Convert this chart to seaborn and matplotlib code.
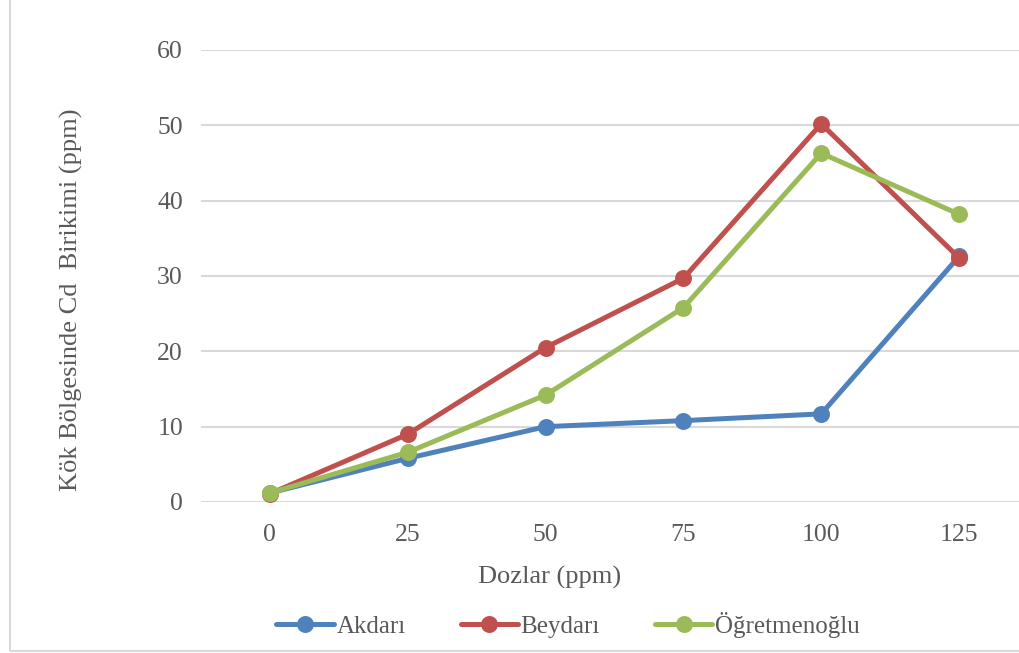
import matplotlib
matplotlib.use("Agg")
import matplotlib.pyplot as plt
import seaborn as sns
import pandas as pd
from matplotlib.patches import Rectangle

doses = ["0", "25", "50", "75", "100", "125"]
akdari = [1.2, 5.8, 10.0, 10.8, 11.7, 32.6]
beydari = [1.1, 9.0, 20.5, 29.7, 50.2, 32.4]
ogretmenoglu = [1.2, 6.6, 14.2, 25.8, 46.3, 38.2]
series_names = ["Akdarı", "Beydarı", "Öğretmenoğlu"]
colors = ["#4F81BD", "#C0504D", "#9BBB59"]
yticks = [0, 10, 20, 30, 40, 50, 60]

rows = []
for name, vals in zip(series_names, [akdari, beydari, ogretmenoglu]):
    for d, v in zip(doses, vals):
        rows.append({"Doz": d, "Val": v, "Cultivar": name})
df = pd.DataFrame(rows)

sns.set_theme(style="white")
plt.rcParams["font.family"] = ["Liberation Serif", "DejaVu Serif"]
text_color = "#595959"

W, H = 1019, 653
fig = plt.figure(figsize=(W / 100, H / 100), dpi=100)
fig.patch.set_facecolor("white")

# chart border
fig.add_artist(Rectangle((10 / W, 2 / H), 1.2, 1.2, transform=fig.transFigure,
                         fill=False, edgecolor="#D9D9D9", linewidth=1.5))

left, right = 201, 1028
bottom_px, top_px = 502, 50
ax = fig.add_axes([left / W, 1 - bottom_px / H, (right - left) / W, (bottom_px - top_px) / H])

sns.pointplot(data=df, x="Doz", y="Val", hue="Cultivar", order=doses,
              hue_order=series_names, palette=colors, markers="o",
              linestyles="-", errorbar=None, ax=ax,
              linewidth=3.6, markersize=9.5)

ax.set_xlim(-0.5, len(doses) - 0.5)
ax.set_ylim(0, 60)
ax.set_yticks(yticks)
ax.yaxis.grid(True, color="#D9D9D9", linewidth=1.5)
ax.set_axisbelow(True)
for s in ax.spines.values():
    s.set_visible(False)
ax.tick_params(axis="both", length=0, labelsize=18.5, colors=text_color)
ax.tick_params(axis="y", pad=13)
ax.tick_params(axis="x", pad=16)
ax.set_xlabel("Dozlar (ppm)", fontsize=19, color=text_color)
ax.set_ylabel("Kök Bölgesinde Cd  Birikimi (ppm)", fontsize=19, color=text_color)
ax.xaxis.label.set_va("center")
ax.xaxis.set_label_coords(0.422, -0.168)
ax.yaxis.label.set_va("center")
ax.yaxis.label.set_ha("center")
ax.yaxis.set_label_coords(-0.157, 0.447)

handles, labels = ax.get_legend_handles_labels()
ax.legend(handles, labels, loc="center", bbox_to_anchor=(568 / W, 1 - 625 / H),
          bbox_transform=fig.transFigure, ncol=3, frameon=False, fontsize=18,
          labelcolor=text_color, handlelength=2.3, handletextpad=0.1, columnspacing=2.2)

fig.savefig("out.png", dpi=100, facecolor="white")
